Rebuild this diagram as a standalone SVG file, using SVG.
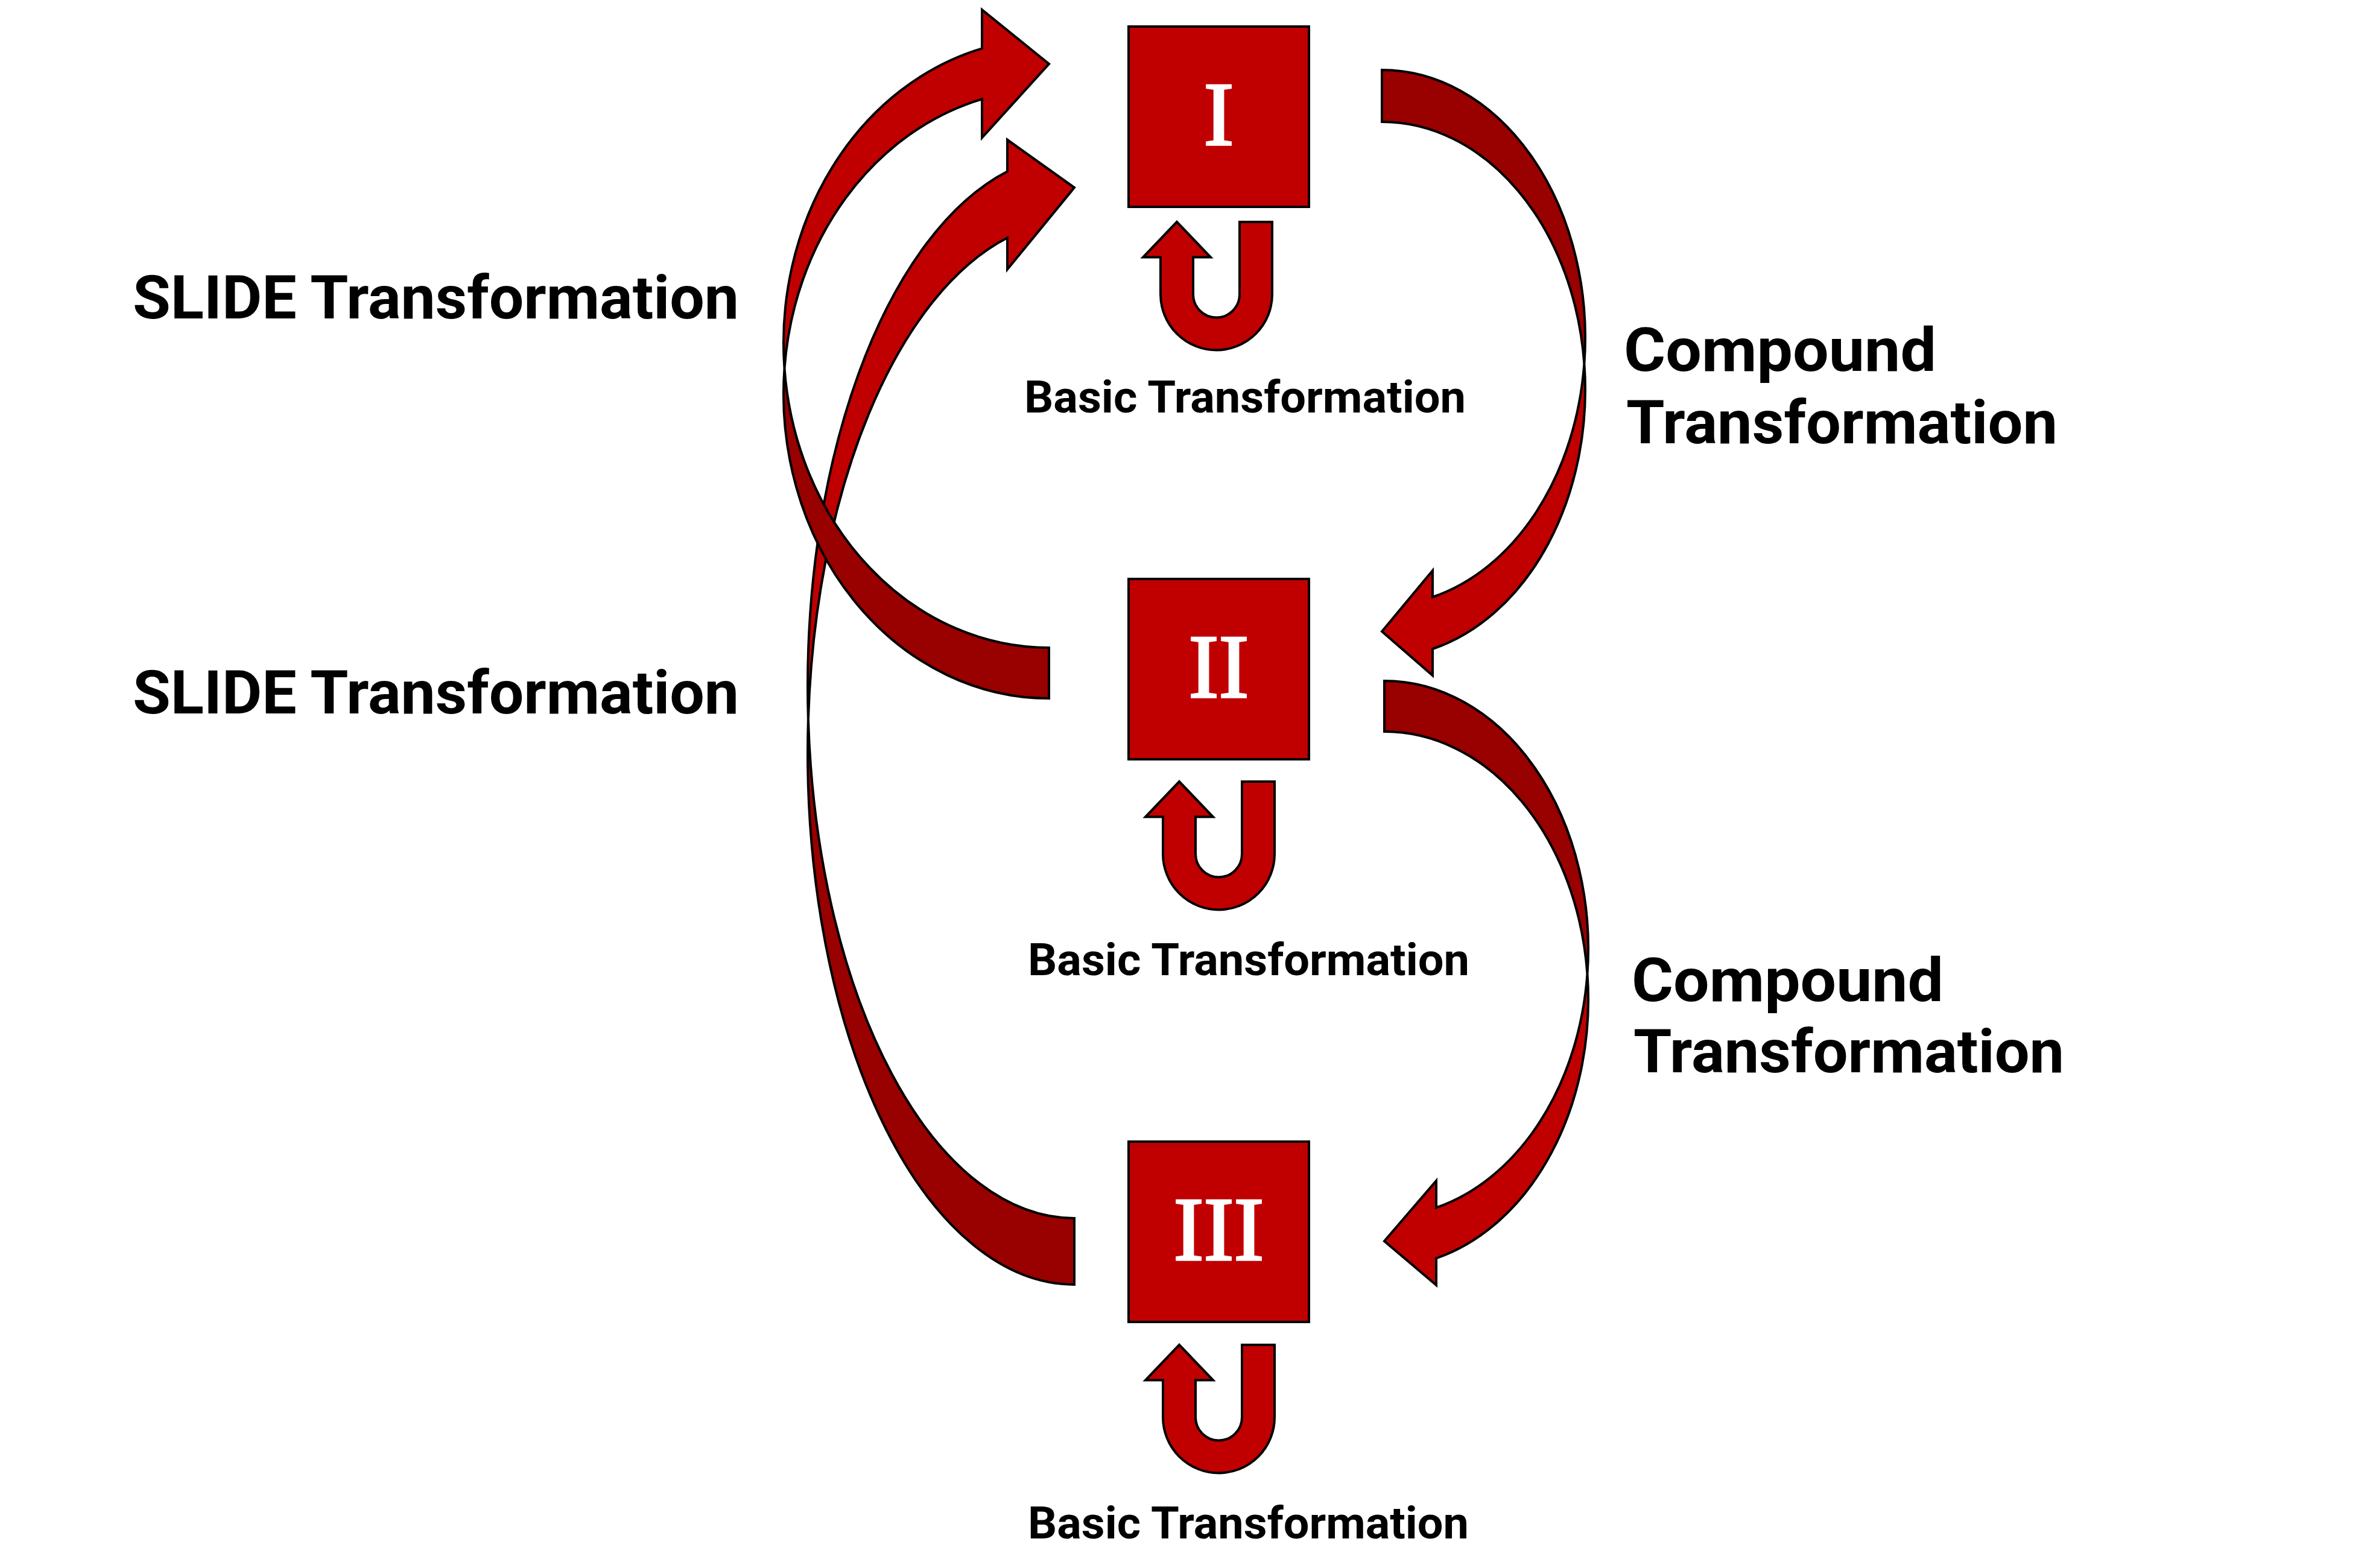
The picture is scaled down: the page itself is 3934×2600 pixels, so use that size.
<svg xmlns="http://www.w3.org/2000/svg" width="3934" height="2600" viewBox="0 0 3934 2600">
<style>
.box{fill:#C00000;stroke:#000;stroke-width:4}
.num{font-family:"Liberation Serif","DejaVu Serif",serif;font-size:150px;fill:#FFFFFF;stroke:#FFFFFF;stroke-width:3.5;text-anchor:middle}
.front{fill:#C00000;stroke:#000;stroke-width:4;stroke-linejoin:miter}
.back{fill:#990000;stroke:#000;stroke-width:4;stroke-linejoin:miter}
.lbl{font-family:Roboto,"Liberation Sans",sans-serif;font-weight:700;fill:#000}
.big{font-size:100px}
.small{font-size:75px}
</style>
<rect width="3934" height="2600" fill="#FFFFFF"/>
<g id="connectors">
  <g id="slide-III-I">
    <path class="back" d="M1781,2130 A442,882 0 0 1 1339.9,1193 A442,882 0 0 0 1781,2020 Z"/>
    <path class="front" d="M1339.9,1193 A442,882 0 0 1 1670,284.25 L1670,231.75 L1781,311 L1670,446.75 L1670,394.25 A442,882 0 0 0 1339.9,1193 Z"/>
  </g>
  <g id="slide-II-I">
    <path class="back" d="M1739,1158 A440,505 0 0 1 1300.5,611 A440,505 0 0 0 1739,1074 Z"/>
    <path class="front" d="M1300.5,611 A440,505 0 0 1 1628,80.3 L1628,16.3 L1739,106 L1628,228.3 L1628,164.3 A440,505 0 0 0 1300.5,611 Z"/>
  </g>
  <g id="compound-I-II">
    <path class="back" d="M2291,116 A337,444 0 0 1 2626.4,603 A337,444 0 0 0 2291,202 Z"/>
    <path class="front" d="M2626.4,603 A337,444 0 0 1 2375,1076 L2375,1120 L2291,1047 L2375,946 L2375,990 A337,444 0 0 0 2626.4,603 Z"/>
  </g>
  <g id="compound-II-III">
    <path class="back" d="M2295,1129 A338,444 0 0 1 2631.5,1615 A338,444 0 0 0 2295,1213 Z"/>
    <path class="front" d="M2631.5,1615 A338,444 0 0 1 2381,2086.4 L2381,2131 L2295,2058 L2381,1958 L2381,2002.4 A338,444 0 0 0 2631.5,1615 Z"/>
  </g>
  <g id="basic-I">
    <path class="front" d="M2055,368 L2109,368 L2109,488 A92.5,92.5 0 0 1 1924,488 L1924,426.5 L1895,426.5 L1951,368 L2007,426.5 L1978,426.5 L1978,488 A38.5,38.5 0 0 0 2055,488 Z"/>
  </g>
  <g id="basic-II" transform="translate(4,928)">
    <path class="front" d="M2055,368 L2109,368 L2109,488 A92.5,92.5 0 0 1 1924,488 L1924,426.5 L1895,426.5 L1951,368 L2007,426.5 L1978,426.5 L1978,488 A38.5,38.5 0 0 0 2055,488 Z"/>
  </g>
  <g id="basic-III" transform="translate(4,1862)">
    <path class="front" d="M2055,368 L2109,368 L2109,488 A92.5,92.5 0 0 1 1924,488 L1924,426.5 L1895,426.5 L1951,368 L2007,426.5 L1978,426.5 L1978,488 A38.5,38.5 0 0 0 2055,488 Z"/>
  </g>
</g>
<g id="node-I">
  <rect class="box" x="1871" y="44" width="299" height="299"/>
  <text class="num" x="2020.5" y="240">I</text>
</g>
<g id="node-II">
  <rect class="box" x="1871" y="960" width="299" height="299"/>
  <text class="num" x="2020.5" y="1156">II</text>
</g>
<g id="node-III">
  <rect class="box" x="1871" y="1893" width="299" height="299"/>
  <text class="num" x="2020.5" y="2089">III</text>
</g>
<g id="labels">
  <text class="lbl big" x="220" y="528" textLength="1005" lengthAdjust="spacingAndGlyphs">SLIDE Transformation</text>
  <text class="lbl big" x="220" y="1183" textLength="1005" lengthAdjust="spacingAndGlyphs">SLIDE Transformation</text>
  <text class="lbl big"><tspan x="2692" y="615" textLength="518" lengthAdjust="spacingAndGlyphs">Compound</tspan><tspan x="2696" y="735" textLength="715" lengthAdjust="spacingAndGlyphs">Transformation</tspan></text>
  <text class="lbl big"><tspan x="2705" y="1660" textLength="517" lengthAdjust="spacingAndGlyphs">Compound</tspan><tspan x="2708" y="1778" textLength="714" lengthAdjust="spacingAndGlyphs">Transformation</tspan></text>
  <text class="lbl small" x="1698" y="684" textLength="732" lengthAdjust="spacingAndGlyphs">Basic Transformation</text>
  <text class="lbl small" x="1704" y="1617" textLength="732" lengthAdjust="spacingAndGlyphs">Basic Transformation</text>
  <text class="lbl small" x="1704" y="2551" textLength="731" lengthAdjust="spacingAndGlyphs">Basic Transformation</text>
</g>
</svg>
